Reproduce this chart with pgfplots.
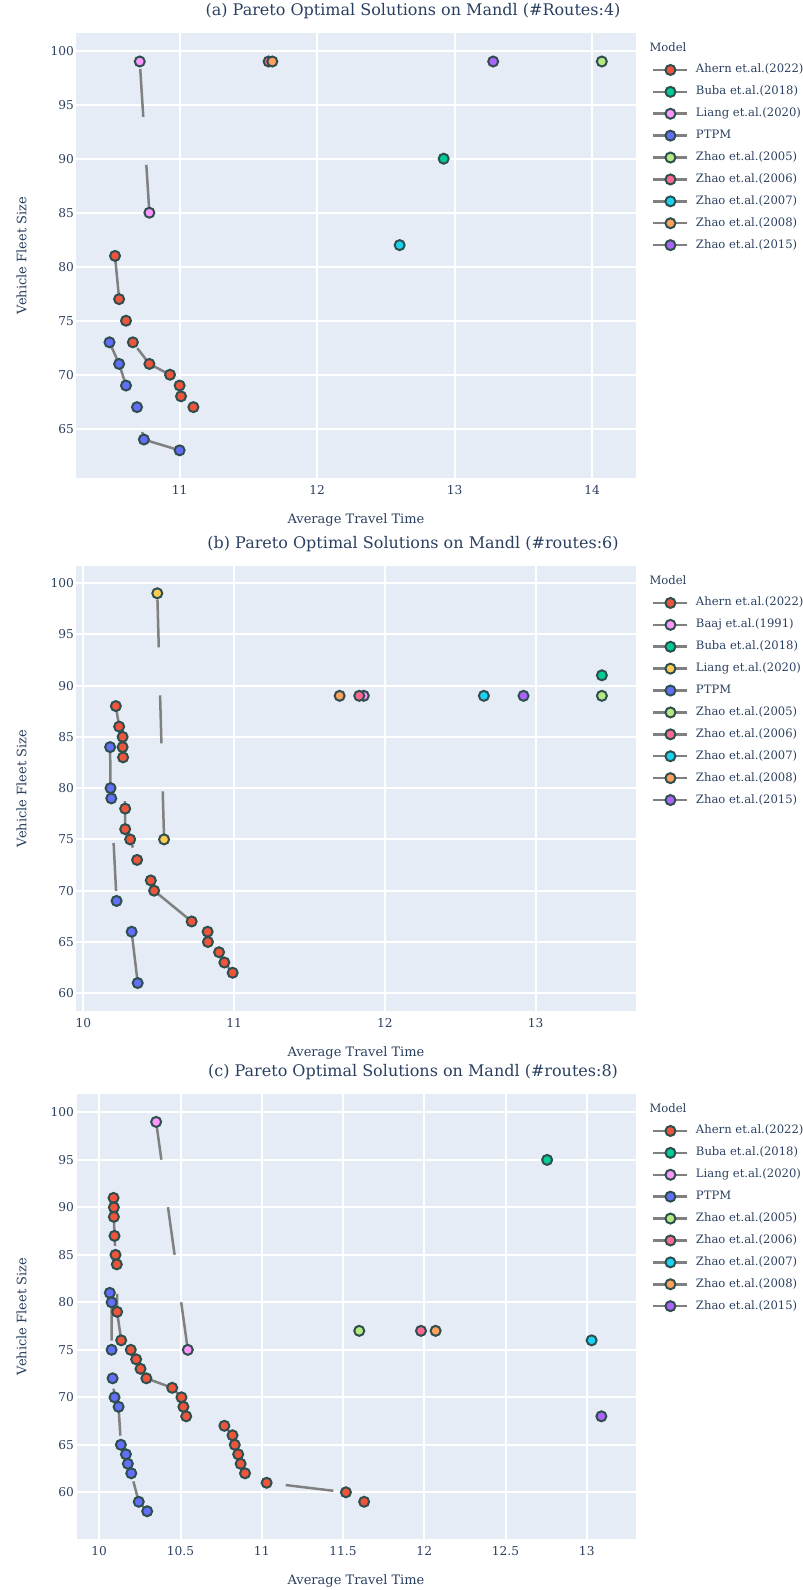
\documentclass[border=0pt]{standalone}
\usepackage{fontspec}
\setmainfont{DejaVu Serif}
\usepackage{pgfplots}
\pgfplotsset{compat=1.18}
\definecolor{pbg}{HTML}{E5ECF6}
\definecolor{ptext}{HTML}{2A3F5F}
\definecolor{mb}{HTML}{2F4F4F}
\definecolor{lg}{HTML}{808080}
\definecolor{cAhern}{HTML}{EF553B}
\definecolor{cBuba}{HTML}{00CC96}
\definecolor{cPink}{HTML}{FF97FF}
\definecolor{cPTPM}{HTML}{636EFA}
\definecolor{cZa}{HTML}{B6E880}
\definecolor{cZb}{HTML}{FF6692}
\definecolor{cZc}{HTML}{19D3F3}
\definecolor{cZd}{HTML}{FFA15A}
\definecolor{cZe}{HTML}{AB63FA}
\definecolor{cYel}{HTML}{FECB52}
\pgfplotsset{
  ser/.style={color=lg, line width=2.5pt, dash pattern=on 48pt off 48pt,
    mark=*, mark size=5pt, mark options={solid, draw=mb, fill=#1, line width=2pt}},
  base/.style={scale only axis, width=559pt, height=445pt,
    axis background/.style={fill=pbg},
    axis line style={draw=none},
    grid=major, major grid style={white, line width=2pt},
    tick style={draw=none}, major tick length=0pt,
    ticklabel style={font=\fontsize{12.2}{14}\selectfont, text=ptext},
    /pgf/number format/assume math mode=true,
    yticklabel style={inner sep=0pt, xshift=-2.5pt},
    xticklabel style={inner sep=0pt, yshift=-7.5pt},
    xlabel={Average Travel Time}, ylabel={Vehicle Fleet Size},
    label style={font=\fontsize{13}{15}\selectfont, text=ptext},
    xlabel style={at={(axis description cs:0.5,-0.095)}, anchor=center},
    ylabel style={at={(axis description cs:-0.0984,0.5)}, anchor=center},
    title style={font=\fontsize{16}{19}\selectfont, text=ptext, anchor=center, at={(axis description cs:0.602,1.036)}},
    legend cell align=left,
    legend style={at={(axis description cs:1.0295,0.932)}, anchor=north west, draw=none, fill=none,
      inner sep=0pt, font=\fontsize{11.6}{13}\selectfont, text=ptext,
      nodes={inner sep=0pt, text height=9.5pt, text depth=3.5pt},
      row sep=8.9pt, column sep=7.3pt},
    legend image code/.code={\draw[mark repeat=2, mark phase=2, #1, solid] plot coordinates {(0pt,0pt) (17pt,0pt) (34pt,0pt)};},
    extra description/.code={\node[anchor=west, inner sep=0pt, font=\fontsize{11.6}{13}\selectfont, text=ptext] at (1.0247,0.969) {Model};},
  }
}
\begin{document}
\begin{tikzpicture}
\useasboundingbox (0,0) rectangle (803pt,1590pt);
% ---------------- (a)
\begin{axis}[base, at={(76.5pt,1112pt)}, anchor=south west,
  title={(a) Pareto Optimal Solutions on Mandl (\#Routes:4)},
  xmin=10.25, xmax=14.315, ymin=60.44, ymax=101.64,
  xtick={11,12,13,14}, ytick={65,70,...,100}]
\addplot[ser=cAhern] coordinates {(10.53,81)(10.56,77)(10.61,75)(10.66,73)(10.78,71)(10.93,70)(11.00,69)(11.01,68)(11.10,67)};
\addlegendentry{Ahern et.al.(2022)}
\addplot[ser=cBuba] coordinates {(12.92,90)};
\addlegendentry{Buba et.al.(2018)}
\addplot[ser=cPink] coordinates {(10.78,85)(10.71,99)};
\addlegendentry{Liang et.al.(2020)}
\addplot[ser=cPTPM] coordinates {(10.49,73)(10.56,71)(10.61,69)(10.69,67)(10.74,64)(11.00,63)};
\addlegendentry{PTPM}
\addplot[ser=cZa] coordinates {(14.07,99)};
\addlegendentry{Zhao et.al.(2005)}
\addplot[ser=cZb] coordinates {(11.647,99)};
\addlegendentry{Zhao et.al.(2006)}
\addplot[ser=cZc] coordinates {(12.60,82)};
\addlegendentry{Zhao et.al.(2007)}
\addplot[ser=cZd] coordinates {(11.674,99)};
\addlegendentry{Zhao et.al.(2008)}
\addplot[ser=cZe] coordinates {(13.28,99)};
\addlegendentry{Zhao et.al.(2015)}
\end{axis}
% ---------------- (b)
\begin{axis}[base, at={(76.5pt,579pt)}, anchor=south west,
  title={(b) Pareto Optimal Solutions on Mandl (\#routes:6)},
  xmin=9.954, xmax=13.663, ymin=58.27, ymax=101.66,
  xtick={10,11,12,13}, ytick={60,65,...,100}]
\addplot[ser=cAhern] coordinates {(10.215,88)(10.237,86)(10.26,85)(10.26,84)(10.263,83)(10.277,78)(10.277,76)(10.31,75)(10.356,73)(10.447,71)(10.469,70)(10.718,67)(10.824,66)(10.826,65)(10.90,64)(10.935,63)(10.99,62)};
\addlegendentry{Ahern et.al.(2022)}
\addplot[ser=cPink] coordinates {(11.86,89)};
\addlegendentry{Baaj et.al.(1991)}
\addplot[ser=cBuba] coordinates {(13.44,91)};
\addlegendentry{Buba et.al.(2018)}
\addplot[ser=cYel] coordinates {(10.535,75)(10.49,99)};
\addlegendentry{Liang et.al.(2020)}
\addplot[ser=cPTPM] coordinates {(10.177,84)(10.18,80)(10.185,79)(10.22,69)(10.32,66)(10.36,61)};
\addlegendentry{PTPM}
\addplot[ser=cZa] coordinates {(13.44,89)};
\addlegendentry{Zhao et.al.(2005)}
\addplot[ser=cZb] coordinates {(11.83,89)};
\addlegendentry{Zhao et.al.(2006)}
\addplot[ser=cZc] coordinates {(12.657,89)};
\addlegendentry{Zhao et.al.(2007)}
\addplot[ser=cZd] coordinates {(11.70,89)};
\addlegendentry{Zhao et.al.(2008)}
\addplot[ser=cZe] coordinates {(12.92,89)};
\addlegendentry{Zhao et.al.(2015)}
\end{axis}
% ---------------- (c)
\begin{axis}[base, at={(76.5pt,51pt)}, anchor=south west,
  title={(c) Pareto Optimal Solutions on Mandl (\#routes:8)},
  xmin=9.86, xmax=13.30, ymin=55.08, ymax=101.94,
  xtick={10,10.5,...,13}, ytick={60,65,...,100}]
\addplot[ser=cAhern] coordinates {(10.088,91)(10.09,90)(10.09,89)(10.094,87)(10.10,85)(10.108,84)(10.11,79)(10.135,76)(10.194,75)(10.227,74)(10.254,73)(10.29,72)(10.449,71)(10.506,70)(10.518,69)(10.535,68)(10.77,67)(10.82,66)(10.834,65)(10.855,64)(10.87,63)(10.897,62)(11.03,61)(11.518,60)(11.63,59)};
\addlegendentry{Ahern et.al.(2022)}
\addplot[ser=cBuba] coordinates {(12.756,95)};
\addlegendentry{Buba et.al.(2018)}
\addplot[ser=cPink] coordinates {(10.545,75)(10.35,99)};
\addlegendentry{Liang et.al.(2020)}
\addplot[ser=cPTPM] coordinates {(10.065,81)(10.076,80)(10.076,75)(10.082,72)(10.094,70)(10.119,69)(10.133,65)(10.164,64)(10.176,63)(10.197,62)(10.243,59)(10.295,58)};
\addlegendentry{PTPM}
\addplot[ser=cZa] coordinates {(11.60,77)};
\addlegendentry{Zhao et.al.(2005)}
\addplot[ser=cZb] coordinates {(11.98,77)};
\addlegendentry{Zhao et.al.(2006)}
\addplot[ser=cZc] coordinates {(13.03,76)};
\addlegendentry{Zhao et.al.(2007)}
\addplot[ser=cZd] coordinates {(12.07,77)};
\addlegendentry{Zhao et.al.(2008)}
\addplot[ser=cZe] coordinates {(13.09,68)};
\addlegendentry{Zhao et.al.(2015)}
\end{axis}
\end{tikzpicture}
\end{document}
